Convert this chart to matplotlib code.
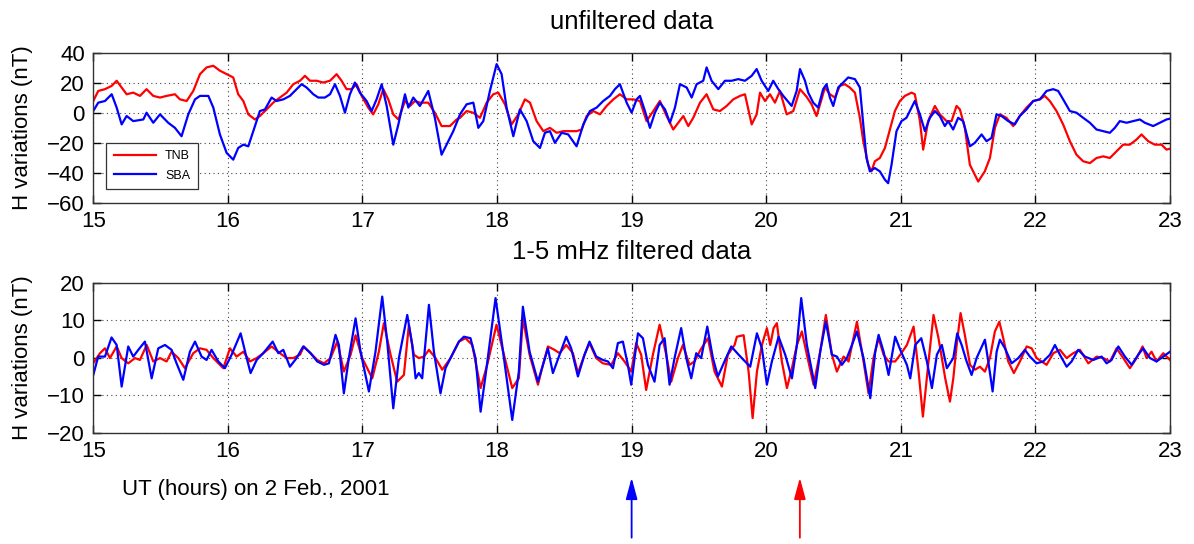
import numpy as np
import matplotlib
matplotlib.use("Agg")
import matplotlib.pyplot as plt

plt.rcParams['font.family'] = ['Liberation Sans', 'DejaVu Sans']

# ---------------- unfiltered H variations (nT) ----------------
t_tnb_raw = [15.000, 15.037, 15.087, 15.137, 15.174, 15.211, 15.248, 15.297, 15.347, 15.396,
             15.446, 15.496, 15.545, 15.607, 15.644, 15.694, 15.743, 15.793, 15.842, 15.892,
             15.941, 15.991, 16.040, 16.077, 16.115, 16.152, 16.201, 16.238, 16.288, 16.337,
             16.387, 16.437, 16.486, 16.536, 16.573, 16.610, 16.660, 16.709, 16.759, 16.808,
             16.845, 16.882, 16.919, 16.957, 16.994, 17.043, 17.080, 17.118, 17.155, 17.192,
             17.229, 17.267, 17.316, 17.353, 17.390, 17.427, 17.489, 17.538, 17.588, 17.650,
             17.700, 17.725, 17.774, 17.824, 17.873, 17.923, 17.972, 18.009, 18.059, 18.108,
             18.158, 18.207, 18.245, 18.294, 18.344, 18.393, 18.443, 18.492, 18.542, 18.591,
             18.629, 18.666, 18.715, 18.765, 18.814, 18.864, 18.913, 18.963, 19.012, 19.062,
             19.111, 19.161, 19.210, 19.260, 19.309, 19.347, 19.384, 19.421, 19.458, 19.508,
             19.557, 19.607, 19.656, 19.706, 19.755, 19.805, 19.842, 19.892, 19.929, 19.954,
             19.991, 20.028, 20.065, 20.102, 20.152, 20.201, 20.251, 20.300, 20.337, 20.374,
             20.411, 20.436, 20.473, 20.510, 20.547, 20.584, 20.621, 20.659, 20.696, 20.721,
             20.758, 20.782, 20.807, 20.844, 20.882, 20.919, 20.956, 20.993, 21.030, 21.080,
             21.104, 21.142, 21.166, 21.203, 21.253, 21.290, 21.340, 21.377, 21.414, 21.439,
             21.476, 21.513, 21.575, 21.624, 21.662, 21.699, 21.736, 21.785, 21.835, 21.884,
             21.934, 21.984, 22.033, 22.070, 22.107, 22.157, 22.206, 22.256, 22.305, 22.355,
             22.405, 22.454, 22.504, 22.553, 22.603, 22.652, 22.702, 22.751, 22.788, 22.838,
             22.887, 22.937, 22.974, 23.000]
h_tnb_raw = [7.8, 14.5, 15.7, 17.9, 21.3, 16.8, 12.3, 13.4, 11.2, 15.7,
             11.2, 10.1, 11.2, 12.3, 8.9, 7.8, 14.5, 25.7, 30.2, 31.3,
             28.0, 25.7, 23.5, 12.3, 7.8, -1.1, -4.5, -2.2, 2.2, 6.7,
             10.1, 13.4, 19.0, 21.3, 24.6, 21.3, 21.3, 20.1, 21.3, 25.7,
             21.3, 15.7, 15.7, 19.0, 11.2, 3.4, -1.1, 5.6, 15.7, 8.9,
             -1.1, -4.5, 7.8, 4.5, 7.8, 6.7, 6.7, 0.0, -8.9, -8.9,
             -4.5, -3.4, 1.1, 0.0, -3.4, 6.7, 12.3, 13.4, 5.6, -7.8,
             -1.1, 8.9, 6.7, -5.6, -12.3, -10.1, -13.4, -12.3, -12.3, -12.3,
             -11.2, -2.2, 1.1, -1.1, 4.5, 8.9, 12.3, 8.9, 8.9, 7.8,
             -5.6, 1.1, 7.8, -2.2, -11.2, -6.7, -2.2, -8.9, -3.4, 6.7,
             12.3, 2.2, 1.1, 4.5, 8.9, 11.2, 12.3, -7.8, -1.1, 13.4,
             7.8, 12.3, 6.7, 14.5, -1.1, 1.1, 15.7, 10.6, 5.6, -2.2,
             8.9, 16.8, 12.3, 10.1, 17.9, 19.0, 16.8, 13.4, -3.4, -19.0,
             -34.7, -39.1, -32.4, -30.2, -23.5, -11.2, 1.1, 7.8, 11.2, 13.4,
             12.3, -5.6, -24.6, -5.6, 4.5, -1.1, -5.6, -5.6, 4.5, 2.2,
             -10.1, -34.7, -45.9, -39.1, -30.2, -10.1, -1.1, -3.4, -8.9, -2.2,
             3.4, 7.8, 8.9, 11.2, 7.8, 1.1, -7.8, -19.0, -28.0, -32.4,
             -33.6, -30.2, -29.1, -30.2, -25.7, -21.3, -21.3, -17.9, -14.5, -19.0,
             -21.3, -21.3, -24.6, -24.0]

t_sba_raw = [15.000, 15.037, 15.087, 15.137, 15.174, 15.211, 15.248, 15.297, 15.372, 15.396,
             15.446, 15.496, 15.557, 15.607, 15.656, 15.706, 15.756, 15.793, 15.855, 15.892,
             15.941, 15.991, 16.040, 16.077, 16.115, 16.152, 16.189, 16.238, 16.276, 16.325,
             16.362, 16.412, 16.461, 16.511, 16.548, 16.585, 16.635, 16.672, 16.721, 16.759,
             16.796, 16.833, 16.870, 16.907, 16.944, 16.981, 17.031, 17.068, 17.105, 17.143,
             17.180, 17.229, 17.267, 17.316, 17.341, 17.378, 17.427, 17.489, 17.538, 17.588,
             17.625, 17.675, 17.725, 17.774, 17.824, 17.861, 17.898, 17.947, 17.997, 18.034,
             18.071, 18.121, 18.170, 18.220, 18.269, 18.319, 18.356, 18.393, 18.430, 18.480,
             18.529, 18.591, 18.641, 18.690, 18.740, 18.789, 18.839, 18.876, 18.913, 18.963,
             19.000, 19.037, 19.062, 19.099, 19.136, 19.173, 19.210, 19.248, 19.285, 19.322,
             19.359, 19.409, 19.446, 19.483, 19.532, 19.557, 19.594, 19.644, 19.693, 19.743,
             19.792, 19.842, 19.892, 19.929, 19.966, 20.015, 20.052, 20.090, 20.127, 20.189,
             20.226, 20.251, 20.288, 20.312, 20.349, 20.386, 20.423, 20.448, 20.473, 20.498,
             20.535, 20.572, 20.609, 20.659, 20.696, 20.721, 20.745, 20.770, 20.807, 20.844,
             20.882, 20.906, 20.931, 20.968, 21.005, 21.042, 21.080, 21.104, 21.142, 21.179,
             21.216, 21.253, 21.290, 21.327, 21.352, 21.389, 21.426, 21.463, 21.513, 21.550,
             21.600, 21.637, 21.674, 21.711, 21.748, 21.798, 21.847, 21.884, 21.934, 21.984,
             22.033, 22.083, 22.132, 22.169, 22.206, 22.256, 22.305, 22.355, 22.405, 22.454,
             22.504, 22.553, 22.590, 22.627, 22.677, 22.726, 22.776, 22.813, 22.875, 22.925,
             22.974, 23.000]
h_sba_raw = [1.1, 6.7, 7.8, 12.3, 3.4, -7.8, -2.2, -5.6, -4.5, 0.0,
             -6.7, -1.1, -6.7, -10.1, -15.7, -1.1, 8.9, 11.2, 11.2, 3.4,
             -14.5, -26.8, -31.3, -23.5, -21.3, -22.4, -12.3, 1.1, 2.2, 10.1,
             7.8, 8.9, 11.2, 15.7, 19.0, 16.8, 12.3, 10.1, 10.1, 12.3,
             19.0, 11.2, 0.0, 12.3, 20.1, 13.4, 7.8, 1.1, 8.9, 19.0,
             4.5, -21.3, -7.8, 12.3, 3.4, 10.1, 4.5, 14.5, -3.4, -28.0,
             -21.3, -12.3, -1.1, 5.6, 6.7, -10.1, -5.6, 14.5, 32.4, 25.7,
             3.4, -15.7, 2.2, -5.6, -19.0, -23.5, -13.4, -12.3, -20.1, -13.4,
             -14.5, -22.4, -7.8, 1.1, 3.4, 7.8, 11.2, 15.7, 19.0, 6.7,
             0.0, 8.9, 11.2, 1.1, -10.1, 0.0, 6.7, 2.2, -6.7, 3.4,
             19.0, 16.8, 10.1, 19.0, 21.3, 30.2, 21.3, 15.7, 21.3, 21.3,
             22.4, 21.3, 24.6, 29.1, 21.3, 14.5, 21.3, 15.7, 11.2, 4.5,
             14.5, 29.1, 21.3, 13.4, 6.7, 3.4, 15.7, 19.0, 10.1, 4.5,
             16.8, 20.1, 23.5, 22.4, 16.8, -7.8, -30.2, -39.1, -36.9, -39.1,
             -44.7, -47.0, -34.7, -12.3, -5.6, -3.4, 3.4, 7.8, -1.1, -12.3,
             -3.4, 1.1, -2.2, -8.9, -5.6, -11.2, -3.4, -5.6, -22.4, -20.1,
             -14.5, -19.0, -16.8, -1.1, -2.2, -5.6, -7.8, -2.2, 2.2, 7.8,
             8.9, 14.5, 15.7, 14.5, 8.9, 1.1, 0.0, -3.4, -6.7, -11.2,
             -12.3, -13.4, -10.1, -5.6, -6.7, -5.6, -4.5, -6.7, -8.9, -6.7,
             -4.5, -4.0]

# ---------------- 1-5 mHz band-pass filtered H (nT) ----------------
t_tnb_flt = [15.000, 15.050, 15.087, 15.124, 15.174, 15.211, 15.260, 15.310, 15.347, 15.397,
             15.446, 15.496, 15.545, 15.582, 15.632, 15.681, 15.743, 15.793, 15.842, 15.892,
             15.966, 16.016, 16.065, 16.115, 16.164, 16.214, 16.263, 16.325, 16.387, 16.437,
             16.486, 16.536, 16.565, 16.615, 16.664, 16.714, 16.763, 16.813, 16.862, 16.912,
             16.949, 16.998, 17.073, 17.122, 17.159, 17.209, 17.258, 17.308, 17.345, 17.382,
             17.419, 17.457, 17.494, 17.543, 17.593, 17.655, 17.717, 17.766, 17.816, 17.878,
             17.927, 17.996, 18.051, 18.113, 18.162, 18.192, 18.242, 18.304, 18.341, 18.378,
             18.427, 18.465, 18.514, 18.564, 18.601, 18.650, 18.687, 18.737, 18.786, 18.848,
             18.898, 18.947, 18.997, 19.034, 19.071, 19.108, 19.158, 19.208, 19.257, 19.294,
             19.344, 19.381, 19.430, 19.467, 19.512, 19.567, 19.616, 19.671, 19.715, 19.765,
             19.782, 19.832, 19.869, 19.899, 19.931, 19.968, 20.005, 20.030, 20.055, 20.079,
             20.116, 20.154, 20.191, 20.228, 20.265, 20.302, 20.352, 20.401, 20.443, 20.488,
             20.525, 20.575, 20.612, 20.674, 20.723, 20.760, 20.797, 20.835, 20.872, 20.909,
             20.958, 20.996, 21.045, 21.095, 21.132, 21.164, 21.206, 21.243, 21.280, 21.330,
             21.365, 21.390, 21.415, 21.444, 21.476, 21.514, 21.551, 21.588, 21.625, 21.662,
             21.699, 21.732, 21.761, 21.798, 21.840, 21.885, 21.935, 21.972, 22.009, 22.046,
             22.083, 22.133, 22.182, 22.232, 22.281, 22.331, 22.393, 22.455, 22.504, 22.554,
             22.603, 22.653, 22.702, 22.752, 22.796, 22.826, 22.863, 22.900, 22.950, 23.000]
h_tnb_flt = [-1.5, 1.2, 2.5, -0.1, 3.0, -0.1, -1.5, -0.1, -0.6, 3.4,
             -1.0, -0.1, -1.0, 1.6, -0.1, -2.8, 1.2, 2.5, 2.1, -0.1,
             -2.8, 2.5, 0.3, 1.6, -1.0, -0.1, 1.2, 3.0, 1.2, -0.1,
             -0.1, 0.8, 3.0, 1.2, -0.6, -1.5, -0.1, 4.3, -3.7, 0.8,
             6.0, -0.1, -5.5, 1.6, 9.2, 0.8, -6.4, -4.6, 8.7, 0.8,
             -0.1, 0.3, 2.1, -0.1, -3.2, -0.1, 4.3, 5.2, 3.4, -8.1,
             -1.9, 8.8, 0.8, -8.1, -5.5, 10.5, 0.8, -7.2, -1.9, 3.0,
             2.1, 1.2, 3.4, 1.2, -4.1, 0.8, 3.9, -0.1, -1.5, -1.9,
             1.2, -1.0, -3.7, 3.9, 0.8, -8.6, 0.8, 8.8, 0.8, -6.4,
             -0.1, 3.4, -1.9, -1.0, 2.1, 5.2, -3.7, -7.7, 0.8, 3.4,
             5.6, 6.0, -3.7, -16.1, -3.7, 3.4, 7.9, 3.4, 7.9, 9.2,
             -1.0, -8.1, -2.8, 3.4, 7.0, 0.8, -7.2, 1.6, 11.4, 0.8,
             -3.7, 0.3, -1.0, 9.6, -1.0, -9.5, -0.1, 5.2, 0.8, -1.0,
             -1.0, 0.8, 3.4, 8.3, -3.7, -15.7, -1.0, 11.4, 5.2, -5.5,
             -11.7, -5.5, 3.4, 11.9, 6.0, -1.9, -3.2, -2.4, -3.7, -0.1,
             7.0, 9.6, 5.2, -1.0, -4.1, -1.0, 3.0, 2.5, -0.1, -1.0,
             -1.9, 1.2, 2.1, -0.1, 1.2, 2.1, -1.5, 0.3, -0.1, -1.0,
             2.5, -0.1, -2.8, -0.1, 3.0, -0.1, 1.6, -1.0, 1.2, -0.6]

t_sba_flt = [15.000, 15.037, 15.087, 15.136, 15.174, 15.211, 15.260, 15.297, 15.335, 15.384,
             15.434, 15.483, 15.533, 15.582, 15.619, 15.669, 15.718, 15.756, 15.805, 15.842,
             15.879, 15.929, 15.978, 16.028, 16.095, 16.140, 16.169, 16.214, 16.263, 16.333,
             16.375, 16.412, 16.461, 16.511, 16.560, 16.615, 16.664, 16.714, 16.751, 16.800,
             16.825, 16.862, 16.899, 16.949, 16.986, 17.048, 17.097, 17.147, 17.184, 17.229,
             17.271, 17.333, 17.370, 17.395, 17.419, 17.444, 17.494, 17.531, 17.580, 17.617,
             17.667, 17.717, 17.754, 17.803, 17.840, 17.878, 17.915, 17.989, 18.038, 18.113,
             18.162, 18.192, 18.242, 18.304, 18.341, 18.378, 18.415, 18.465, 18.514, 18.551,
             18.601, 18.650, 18.687, 18.737, 18.786, 18.824, 18.861, 18.898, 18.935, 18.972,
             18.997, 19.022, 19.047, 19.084, 19.121, 19.170, 19.208, 19.245, 19.282, 19.319,
             19.368, 19.406, 19.443, 19.480, 19.517, 19.562, 19.604, 19.641, 19.690, 19.740,
             19.795, 19.832, 19.881, 19.931, 19.968, 20.005, 20.042, 20.092, 20.141, 20.191,
             20.228, 20.260, 20.302, 20.364, 20.401, 20.443, 20.488, 20.525, 20.562, 20.599,
             20.637, 20.674, 20.723, 20.773, 20.810, 20.835, 20.872, 20.909, 20.958, 20.996,
             21.045, 21.070, 21.107, 21.152, 21.194, 21.231, 21.268, 21.305, 21.342, 21.390,
             21.419, 21.452, 21.489, 21.526, 21.563, 21.625, 21.650, 21.682, 21.712, 21.736,
             21.774, 21.823, 21.873, 21.922, 21.959, 22.009, 22.058, 22.108, 22.145, 22.182,
             22.232, 22.269, 22.318, 22.368, 22.430, 22.492, 22.529, 22.566, 22.616, 22.665,
             22.715, 22.764, 22.801, 22.851, 22.900, 22.950, 23.000]
h_sba_flt = [-4.6, 0.3, 0.3, 5.4, 3.4, -7.7, 3.0, 0.3, 2.1, 4.3,
             -5.5, 2.5, 3.4, 2.1, -1.5, -5.9, 1.6, 4.3, 0.3, -0.6,
             2.1, -1.0, -2.8, 0.8, 6.5, -0.1, -4.1, -0.6, 1.2, 4.3,
             1.2, 2.1, -2.4, -0.1, 3.0, 1.2, -1.0, -1.9, -1.5, 6.1,
             3.4, -9.5, -0.1, 10.5, 1.6, -9.0, 1.6, 16.3, 4.3, -13.5,
             -0.1, 11.4, 3.4, -5.5, -4.1, -5.5, 14.1, 1.6, -9.5, -2.8,
             0.8, 4.3, 5.6, 5.2, -0.1, -14.4, -4.6, 15.9, 3.4, -16.6,
             -3.7, 13.6, 1.6, -6.4, -1.9, 2.5, -4.1, 0.8, 5.6, 2.5,
             -5.0, 0.8, 4.3, 0.3, -0.6, -1.0, -2.8, 3.9, 4.3, -1.9,
             -7.2, -0.1, 6.5, 5.2, -1.9, -6.4, 3.4, 5.2, -7.2, -0.1,
             7.9, -0.1, -5.5, 1.2, -0.1, 8.3, -0.1, -5.0, -1.0, 3.0,
             0.8, -0.6, -2.4, 6.5, 2.5, -7.2, -1.0, 5.6, 0.8, -5.5,
             3.4, 15.9, 3.4, -8.1, 1.6, 9.6, 0.8, 0.3, -1.9, -0.1,
             3.4, 7.0, -0.1, -10.8, 1.6, 6.1, 1.6, -4.6, 5.6, 2.1,
             -1.9, -5.5, 3.4, 5.2, -1.0, -8.1, 0.8, 3.4, -2.8, -0.1,
             6.5, 3.4, -1.0, -4.6, -0.1, 4.8, -1.0, -9.0, 1.6, 4.8,
             2.5, -1.5, -0.1, 2.1, 0.3, -1.5, -1.0, 0.8, 3.4, 0.8,
             -2.4, -1.0, 2.1, 0.3, -0.6, 0.3, -1.5, -0.6, 3.0, 0.3,
             -1.9, 0.8, 2.5, -0.1, -1.0, 0.3, 1.6]

hour_ticks = [15, 16, 17, 18, 19, 20, 21, 22, 23]
raw_ticks = [-60, -40, -20, 0, 20, 40]
flt_ticks = [-20, -10, 0, 10, 20]
station_names = ["TNB", "SBA"]
station_colors = ["#ff0000", "#0000ff"]
marked_hours = [19.0, 20.25]  # onset times flagged below the filtered panel

fig = plt.figure(figsize=(11.94, 5.44), dpi=100)
ax_raw = fig.add_axes([0.0781, 0.6274, 0.9018, 0.2757])
ax_flt = fig.add_axes([0.0781, 0.2046, 0.9018, 0.2757])

lw = 1.6
ax_raw.plot(t_tnb_raw, h_tnb_raw, color=station_colors[0], lw=lw, label=station_names[0])
ax_raw.plot(t_sba_raw, h_sba_raw, color=station_colors[1], lw=lw, label=station_names[1])
ax_flt.plot(t_tnb_flt, h_tnb_flt, color=station_colors[0], lw=lw)
ax_flt.plot(t_sba_flt, h_sba_flt, color=station_colors[1], lw=lw)

for ax, yt, ttl in [(ax_raw, raw_ticks, "unfiltered data"),
                    (ax_flt, flt_ticks, "1-5 mHz filtered data")]:
    ax.set_xlim(hour_ticks[0], hour_ticks[-1])
    ax.set_ylim(yt[0], yt[-1])
    ax.set_xticks(hour_ticks)
    ax.set_yticks(yt)
    ax.grid(True, linestyle=(0, (1, 3)), color="#444444", linewidth=0.8)
    ax.tick_params(direction="in", length=6, width=1, labelsize=16,
                   top=True, right=True, pad=6)
    for s in ax.spines.values():
        s.set_color("#333333")
        s.set_linewidth(1.0)
    ax.set_ylabel("H variations (nT)", fontsize=16)
    ax.yaxis.set_label_coords(-0.056, 0.5)
    ax.text(0.5, 1.205, ttl, transform=ax.transAxes, ha="center", va="center",
            fontsize=18.5)

leg = ax_raw.legend(loc="lower left", bbox_to_anchor=(0.012, 0.09), fontsize=9,
                    fancybox=False, framealpha=1, edgecolor="#333333",
                    handlelength=3.4, borderpad=0.6, labelspacing=0.6,
                    handletextpad=0.7, borderaxespad=0)
leg.get_frame().set_linewidth(0.9)

ax_flt.text(0.0265, -0.38, "UT (hours) on 2 Feb., 2001", transform=ax_flt.transAxes,
            ha="left", va="center", fontsize=16)

for hx, col in zip(marked_hours, station_colors[::-1]):
    ax_flt.annotate("", xy=(hx, -0.30), xytext=(hx, -0.70),
                    xycoords=("data", "axes fraction"),
                    textcoords=("data", "axes fraction"),
                    arrowprops=dict(arrowstyle="-|>,head_length=1.3,head_width=0.35",
                                    color=col, lw=1.3, shrinkA=0, shrinkB=0),
                    annotation_clip=False)

fig.savefig("out.png", dpi=100)
